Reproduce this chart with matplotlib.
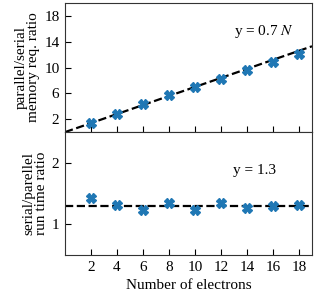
import matplotlib.pyplot as plt
import numpy as np

plt.rcParams['font.family'] = ['Liberation Serif', 'DejaVu Serif']
plt.rcParams['font.size'] = 11
plt.rcParams['mathtext.fontset'] = 'stix'

electrons = [2, 4, 6, 8, 10, 12, 14, 16, 18]
memory_ratio = [1.4, 2.8, 4.4, 5.7, 7.0, 8.2, 9.6, 10.9, 12.1]
time_ratio = [1.43, 1.32, 1.23, 1.35, 1.24, 1.355, 1.27, 1.295, 1.31]
mem_slope = 0.7
time_const = 1.3

fig = plt.figure(figsize=(3.22, 3.03), dpi=100)
ax1 = fig.add_axes([0.202, 0.564, 0.767, 0.426])
ax2 = fig.add_axes([0.202, 0.158, 0.767, 0.406], sharex=ax1)

xx = np.array([0, 19])
ax1.plot(xx, mem_slope * xx, '--', color='black', lw=1.6, zorder=1)
ax1.plot(electrons, memory_ratio, 'X', color='#1f77b4', ms=7, zorder=2)
ax1.text(13.0, 15.0, 'y = 0.7 $N$')
ax1.set_ylim(0, 20)
ax1.set_yticks([2, 6, 10, 14, 18])
ax1.set_ylabel('parallel/serial\nmemory req. ratio', linespacing=0.95, labelpad=3)

ax2.axhline(time_const, ls='--', color='black', lw=1.6, zorder=1)
ax2.plot(electrons, time_ratio, 'X', color='#1f77b4', ms=7, zorder=2)
ax2.text(12.9, 1.82, 'y = 1.3')
ax2.set_ylim(0.5, 2.5)
ax2.set_yticks([1, 2])
ax2.set_ylabel('serial/parellel\nrun time ratio', linespacing=0.95, labelpad=3)
ax2.set_xlim(0, 19)
ax2.set_xticks(electrons)
ax2.set_xlabel('Number of electrons', labelpad=4)

for ax in (ax1, ax2):
    ax.tick_params(direction='in', length=4, width=0.8, colors='black', pad=4)
    for sp in ax.spines.values():
        sp.set_color('#333333')
plt.setp(ax1.get_xticklabels(), visible=False)

fig.savefig('out.png', dpi=100)
